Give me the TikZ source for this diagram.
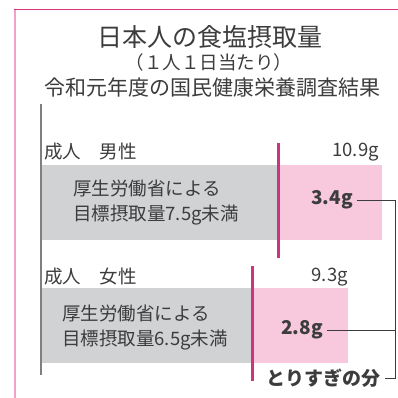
\documentclass[tikz,border=0pt]{standalone}
\usepackage{fontspec}
\setmainfont{Noto Sans CJK JP}
\usetikzlibrary{positioning}
\definecolor{framepink}{HTML}{EFA3C8}
\definecolor{framered}{HTML}{D9357F}
\definecolor{limitred}{HTML}{CC3482}
\definecolor{barpink}{HTML}{F8C9DD}
\definecolor{bargray}{HTML}{D1D2D4}
\definecolor{axisgray}{HTML}{7F7F7F}
\definecolor{txtgray}{HTML}{3C3C3C}
\newcommand*\mydrawbar[4]{%
% #1=top y;#2=bottom y;#3=limit x;#4=total x
    \fill[bargray] (41,#1) rectangle (#3,#2);
    \fill[barpink] (#3,#1) rectangle (#4,#2);
    \draw[limitred,line width=3pt] (#3,#1-22) -- (#3,#2+18);
}

\begin{document}
\begin{tikzpicture}[x=1pt,y=-1pt,
  txt/.style={text=txtgray,inner sep=0pt,font=\fontsize{18.5}{25}\selectfont},
  numbold/.style={text=txtgray,inner sep=0pt,inner xsep=4pt,font=\fontsize{19}{22}\selectfont\bfseries}]
\useasboundingbox (0,0) rectangle (398,398);
% frame
\draw[framepink,line width=2.2pt] (15,9.5) -- (15,398);
\draw[framered,line width=1.3pt] (14,9.5) -- (398,9.5);

\node[txt,font=\fontsize{25}{30}\selectfont] (title) at (210,37) {日本人の食塩摂取量};
\node[txt,font=\fontsize{18.5}{22}\selectfont] (perday) at (209,62) {（１人１日当たり）};
\node[txt,font=\fontsize{21}{24}\selectfont] (survey) at (212,88) {令和元年度の国民健康栄養調査結果};

% male
\mydrawbar{165}{240}{278}{382}
\node[txt,anchor=west] (male) at (44,152) {成人　男性};
\node[txt,anchor=east] (maletotal) at (379,152) {10.9g};
\node[txt,anchor=west,align=left] (malegoal) at (73,203) {厚生労働省による\\目標摂取量7.5g未満};
\node[numbold,anchor=east] (maleover) at (357,200) {3.4g};

% female
\mydrawbar{288}{363}{252}{348}
\node[txt,anchor=west] (female) at (44,277) {成人　女性};
\node[txt,anchor=east] (femaletotal) at (348,277) {9.3g};
\node[txt,anchor=west,align=left] (femalegoal) at (62,328) {厚生労働省による\\目標摂取量6.5g未満};
\node[numbold,anchor=east] (femaleover) at (327,330) {2.8g};

\node[numbold,anchor=east] (overlabel) at (385,378) {とりすぎの分};

\draw[axisgray,line width=2pt] (41,104) -- (41,375);

% bracket
\coordinate (brk) at (395,0);
\draw[txtgray,line width=0.9pt] (maleover.east) -- (maleover -| brk) -- (overlabel -| brk) -- (overlabel.east);
\draw[txtgray,line width=0.9pt] (femaleover.east) -- (femaleover -| brk);
\end{tikzpicture}
\end{document}
